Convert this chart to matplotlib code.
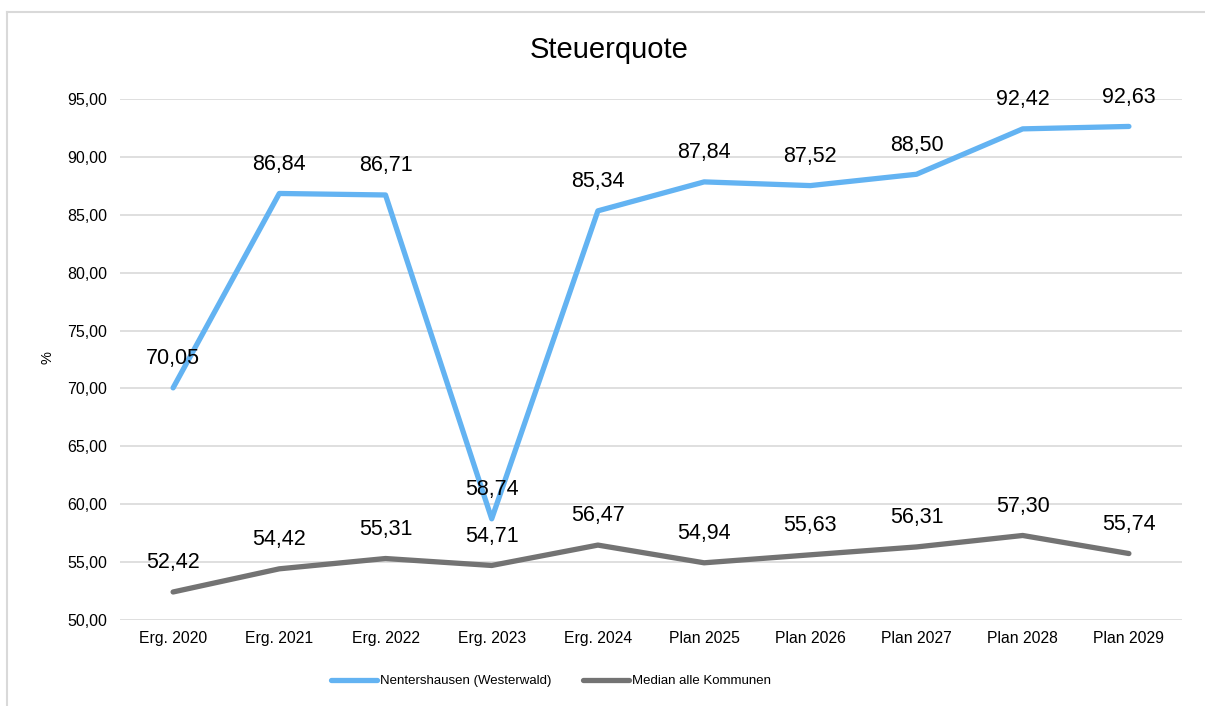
import matplotlib
matplotlib.use("Agg")
import matplotlib.pyplot as plt
from matplotlib.lines import Line2D

plt.rcParams['font.family'] = ['Liberation Sans', 'DejaVu Sans']

categories = ["Erg. 2020", "Erg. 2021", "Erg. 2022", "Erg. 2023", "Erg. 2024",
              "Plan 2025", "Plan 2026", "Plan 2027", "Plan 2028", "Plan 2029"]
nentershausen = [70.05, 86.84, 86.71, 58.74, 85.34, 87.84, 87.52, 88.50, 92.42, 92.63]
median = [52.42, 54.42, 55.31, 54.71, 56.47, 54.94, 55.63, 56.31, 57.30, 55.74]
series_names = ["Nentershausen (Westerwald)", "Median alle Kommunen"]
yticks = [50, 55, 60, 65, 70, 75, 80, 85, 90, 95]

blue = '#63B3F2'
grey = '#737373'

W, H = 1205, 706
fig = plt.figure(figsize=(W / 100, H / 100), dpi=100)
ax = fig.add_axes([120 / W, 1 - 620 / H, (1182 - 120) / W, (620 - 99) / H])

x = list(range(len(categories)))
ax.plot(x, nentershausen, color=blue, lw=3.8, solid_capstyle='round', zorder=3)
ax.plot(x, median, color=grey, lw=3.8, solid_capstyle='round', zorder=3)

def fmt(v):
    return f"{v:.2f}".replace('.', ',')

for xi, v in zip(x, nentershausen):
    ax.annotate(fmt(v), (xi, v), xytext=(0, 21), textcoords='offset points',
                ha='center', va='center', fontsize=15.5, color='black', zorder=5)
for xi, v in zip(x, median):
    ax.annotate(fmt(v), (xi, v), xytext=(0, 21), textcoords='offset points',
                ha='center', va='center', fontsize=15.5, color='black', zorder=5)

ax.set_xlim(-0.5, len(categories) - 0.5)
ax.set_ylim(50, 95)
ax.set_yticks(yticks)
ax.set_yticklabels([fmt(t) for t in yticks], fontsize=11.5)
ax.set_xticks(x)
ax.set_xticklabels(categories, fontsize=11.3)
ax.tick_params(axis='both', length=0)
ax.tick_params(axis='y', pad=9)
ax.tick_params(axis='x', pad=8)
ax.grid(axis='y', color='#D9D9D9', lw=1.2, zorder=0)
for s in ax.spines.values():
    s.set_visible(False)

fig.text(48 / W, 1 - 358 / H, '%', rotation=90, ha='center', va='center', fontsize=10.5)
fig.text(609 / W, 1 - 50 / H, 'Steuerquote', ha='center', va='center', fontsize=21)

handles = [Line2D([], [], color=blue, lw=3.8, solid_capstyle='round'),
           Line2D([], [], color=grey, lw=3.8, solid_capstyle='round')]
fig.legend(handles, series_names, loc='center', bbox_to_anchor=(551 / W, 1 - 681 / H),
           ncol=2, frameon=False, fontsize=9.5, handlelength=3.5, handletextpad=0.2,
           columnspacing=2.4)

# outer border (left and top, light grey)
fig.add_artist(Line2D([7.5 / W, 7.5 / W], [0, 1 - 12 / H], color='#D9D9D9', lw=1.5,
                      transform=fig.transFigure))
fig.add_artist(Line2D([7.5 / W, 1], [1 - 12 / H, 1 - 12 / H], color='#D9D9D9', lw=1.5,
                      transform=fig.transFigure))

fig.savefig('out.png', dpi=100)
